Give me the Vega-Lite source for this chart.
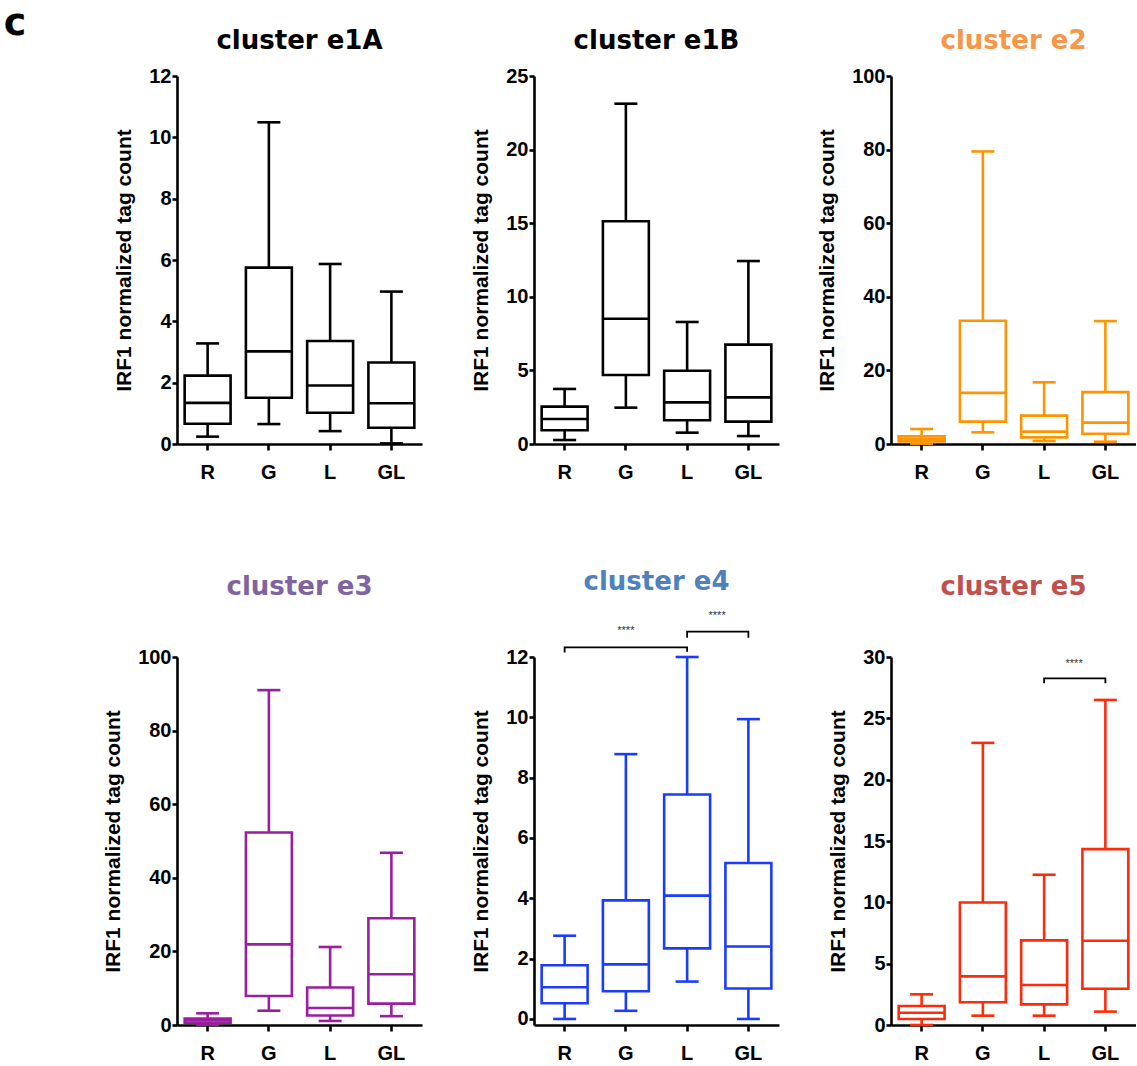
{
  "$schema": "https://vega.github.io/schema/vega-lite/v6.json",
  "padding": {"left": 3, "top": 5, "right": 0, "bottom": 0},
  "background": "white",
  "title": {"text": "c", "anchor": "start", "font": "DejaVu Sans", "fontSize": 38, "fontWeight": "bold", "color": "#000000", "dx": -99, "offset": -15},
  "columns": 3,
  "bounds": "flush",
  "spacing": {"row": 213, "column": 112},
  "config": {
    "view": {"stroke": null},
    "title": {"font": "DejaVu Sans", "fontSize": 26, "fontWeight": "bold", "anchor": "middle"},
    "tick": {"opacity": 1},
    "axis": {"grid": false, "domainColor": "#000000", "domainWidth": 2.6, "tickColor": "#000000", "tickWidth": 2.6, "labelFont": "Liberation Sans", "labelFontWeight": "bold", "labelFontSize": 20, "labelColor": "#000000", "titleFont": "Liberation Sans", "titleFontWeight": "bold", "titleFontSize": 21, "titleColor": "#000000"},
    "axisX": {"tickSize": 6, "labelPadding": 12, "labelAngle": 0},
    "axisY": {"tickSize": 5, "labelPadding": 1, "titlePadding": 14}
  },
  "datasets": {
    "e1A": [
      {"group": "R", "min": 0.24, "q1": 0.66, "median": 1.34, "q3": 2.23, "max": 3.28},
      {"group": "G", "min": 0.65, "q1": 1.51, "median": 3.02, "q3": 5.75, "max": 10.49},
      {"group": "L", "min": 0.42, "q1": 1.02, "median": 1.91, "q3": 3.36, "max": 5.87},
      {"group": "GL", "min": 0.02, "q1": 0.53, "median": 1.33, "q3": 2.66, "max": 4.97}
    ],
    "e1B": [
      {"group": "R", "min": 0.27, "q1": 0.93, "median": 1.7, "q3": 2.54, "max": 3.74},
      {"group": "G", "min": 2.47, "q1": 4.69, "median": 8.51, "q3": 15.13, "max": 23.12},
      {"group": "L", "min": 0.77, "q1": 1.61, "median": 2.83, "q3": 4.98, "max": 8.29},
      {"group": "GL", "min": 0.54, "q1": 1.52, "median": 3.17, "q3": 6.75, "max": 12.43}
    ],
    "e2": [
      {"group": "R", "min": 0.1, "q1": 0.7, "median": 1.4, "q3": 2.1, "max": 4.08},
      {"group": "G", "min": 3.17, "q1": 6.07, "median": 13.9, "q3": 33.5, "max": 79.5},
      {"group": "L", "min": 0.82, "q1": 1.81, "median": 3.35, "q3": 7.7, "max": 16.76},
      {"group": "GL", "min": 0.63, "q1": 2.8, "median": 5.8, "q3": 14.1, "max": 33.4}
    ],
    "e3": [
      {"group": "R", "min": 0.1, "q1": 0.63, "median": 1.27, "q3": 1.72, "max": 3.17},
      {"group": "G", "min": 3.89, "q1": 7.87, "median": 21.9, "q3": 52.3, "max": 91.0},
      {"group": "L", "min": 1.1, "q1": 2.6, "median": 4.6, "q3": 10.2, "max": 21.2},
      {"group": "GL", "min": 2.4, "q1": 5.8, "median": 13.8, "q3": 29.0, "max": 46.8}
    ],
    "e4": [
      {"group": "R", "min": 0, "q1": 0.52, "median": 1.05, "q3": 1.78, "max": 2.76},
      {"group": "G", "min": 0.27, "q1": 0.92, "median": 1.81, "q3": 3.93, "max": 8.78},
      {"group": "L", "min": 1.24, "q1": 2.34, "median": 4.09, "q3": 7.44, "max": 12.0},
      {"group": "GL", "min": 0, "q1": 1.01, "median": 2.4, "q3": 5.17, "max": 9.94}
    ],
    "e5": [
      {"group": "R", "min": 0, "q1": 0.49, "median": 1.0, "q3": 1.55, "max": 2.5},
      {"group": "G", "min": 0.76, "q1": 1.85, "median": 3.96, "q3": 9.99, "max": 23.0},
      {"group": "L", "min": 0.76, "q1": 1.68, "median": 3.26, "q3": 6.9, "max": 12.25},
      {"group": "GL", "min": 1.09, "q1": 2.96, "median": 6.87, "q3": 14.34, "max": 26.5}
    ],
    "e4br": [
      {"b": "a", "o": 1, "group": "R", "y": 12.15},
      {"b": "a", "o": 2, "group": "R", "y": 12.32},
      {"b": "a", "o": 3, "group": "L", "y": 12.32},
      {"b": "a", "o": 4, "group": "L", "y": 12.17},
      {"b": "b", "o": 1, "group": "L", "y": 12.64},
      {"b": "b", "o": 2, "group": "L", "y": 12.84},
      {"b": "b", "o": 3, "group": "GL", "y": 12.84},
      {"b": "b", "o": 4, "group": "GL", "y": 12.64}
    ],
    "e4stA": [{"group": "G", "y": 12.85, "label": "****"}],
    "e4stB": [{"group": "L", "y": 13.36, "label": "****"}],
    "e5br": [
      {"b": "a", "o": 1, "group": "L", "y": 27.85},
      {"b": "a", "o": 2, "group": "L", "y": 28.26},
      {"b": "a", "o": 3, "group": "GL", "y": 28.26},
      {"b": "a", "o": 4, "group": "GL", "y": 27.85}
    ],
    "e5st": [{"group": "L", "y": 29.4, "label": "****"}]
  },
  "concat": [
    {
      "width": 245, "height": 368,
      "title": {"text": "cluster e1A", "color": "#000000", "offset": 12},
      "data": {"name": "e1A"},
      "encoding": {"x": {"field": "group", "type": "nominal", "sort": ["R", "G", "L", "GL"], "scale": {"paddingInner": 0.25, "paddingOuter": 0.125}, "axis": {"title": null}}},
      "layer": [
        {"mark": {"type": "rule", "color": "#000000", "strokeWidth": 2.6}, "encoding": {"y": {"field": "min", "type": "quantitative", "scale": {"domain": [0, 12], "nice": false, "zero": false}, "axis": {"values": [0, 2, 4, 6, 8, 10, 12], "title": "IRF1 normalized tag count"}}, "y2": {"field": "max"}}},
        {"mark": {"type": "bar", "fill": "#ffffff", "stroke": "#000000", "strokeWidth": 2.6}, "encoding": {"y": {"field": "q1", "type": "quantitative"}, "y2": {"field": "q3"}}},
        {"mark": {"type": "tick", "color": "#000000", "thickness": 2.6, "size": 46}, "encoding": {"y": {"field": "median", "type": "quantitative"}}},
        {"mark": {"type": "tick", "color": "#000000", "thickness": 2.6, "size": 23}, "encoding": {"y": {"field": "min", "type": "quantitative"}}},
        {"mark": {"type": "tick", "color": "#000000", "thickness": 2.6, "size": 23}, "encoding": {"y": {"field": "max", "type": "quantitative"}}}
      ]
    },
    {
      "width": 245, "height": 368,
      "title": {"text": "cluster e1B", "color": "#000000", "offset": 12},
      "data": {"name": "e1B"},
      "encoding": {"x": {"field": "group", "type": "nominal", "sort": ["R", "G", "L", "GL"], "scale": {"paddingInner": 0.25, "paddingOuter": 0.125}, "axis": {"title": null}}},
      "layer": [
        {"mark": {"type": "rule", "color": "#000000", "strokeWidth": 2.6}, "encoding": {"y": {"field": "min", "type": "quantitative", "scale": {"domain": [0, 25], "nice": false, "zero": false}, "axis": {"values": [0, 5, 10, 15, 20, 25], "title": "IRF1 normalized tag count"}}, "y2": {"field": "max"}}},
        {"mark": {"type": "bar", "fill": "#ffffff", "stroke": "#000000", "strokeWidth": 2.6}, "encoding": {"y": {"field": "q1", "type": "quantitative"}, "y2": {"field": "q3"}}},
        {"mark": {"type": "tick", "color": "#000000", "thickness": 2.6, "size": 46}, "encoding": {"y": {"field": "median", "type": "quantitative"}}},
        {"mark": {"type": "tick", "color": "#000000", "thickness": 2.6, "size": 23}, "encoding": {"y": {"field": "min", "type": "quantitative"}}},
        {"mark": {"type": "tick", "color": "#000000", "thickness": 2.6, "size": 23}, "encoding": {"y": {"field": "max", "type": "quantitative"}}}
      ]
    },
    {
      "width": 245, "height": 368,
      "title": {"text": "cluster e2", "color": "#F79646", "offset": 12},
      "data": {"name": "e2"},
      "encoding": {"x": {"field": "group", "type": "nominal", "sort": ["R", "G", "L", "GL"], "scale": {"paddingInner": 0.25, "paddingOuter": 0.125}, "axis": {"title": null}}},
      "layer": [
        {"mark": {"type": "rule", "color": "#FF9400", "strokeWidth": 2.6}, "encoding": {"y": {"field": "min", "type": "quantitative", "scale": {"domain": [0, 100], "nice": false, "zero": false}, "axis": {"values": [0, 20, 40, 60, 80, 100], "title": "IRF1 normalized tag count"}}, "y2": {"field": "max"}}},
        {"mark": {"type": "bar", "fill": "#ffffff", "stroke": "#FF9400", "strokeWidth": 2.6}, "encoding": {"y": {"field": "q1", "type": "quantitative"}, "y2": {"field": "q3"}}},
        {"mark": {"type": "tick", "color": "#FF9400", "thickness": 2.6, "size": 46}, "encoding": {"y": {"field": "median", "type": "quantitative"}}},
        {"mark": {"type": "tick", "color": "#FF9400", "thickness": 2.6, "size": 23}, "encoding": {"y": {"field": "min", "type": "quantitative"}}},
        {"mark": {"type": "tick", "color": "#FF9400", "thickness": 2.6, "size": 23}, "encoding": {"y": {"field": "max", "type": "quantitative"}}}
      ]
    },
    {
      "width": 245, "height": 368,
      "title": {"text": "cluster e3", "color": "#8064A2", "offset": 47},
      "data": {"name": "e3"},
      "encoding": {"x": {"field": "group", "type": "nominal", "sort": ["R", "G", "L", "GL"], "scale": {"paddingInner": 0.25, "paddingOuter": 0.125}, "axis": {"title": null}}},
      "layer": [
        {"mark": {"type": "rule", "color": "#9A1E9F", "strokeWidth": 2.6}, "encoding": {"y": {"field": "min", "type": "quantitative", "scale": {"domain": [0, 100], "nice": false, "zero": false}, "axis": {"values": [0, 20, 40, 60, 80, 100], "title": "IRF1 normalized tag count"}}, "y2": {"field": "max"}}},
        {"mark": {"type": "bar", "fill": "#ffffff", "stroke": "#9A1E9F", "strokeWidth": 2.6}, "encoding": {"y": {"field": "q1", "type": "quantitative"}, "y2": {"field": "q3"}}},
        {"mark": {"type": "tick", "color": "#9A1E9F", "thickness": 2.6, "size": 46}, "encoding": {"y": {"field": "median", "type": "quantitative"}}},
        {"mark": {"type": "tick", "color": "#9A1E9F", "thickness": 2.6, "size": 23}, "encoding": {"y": {"field": "min", "type": "quantitative"}}},
        {"mark": {"type": "tick", "color": "#9A1E9F", "thickness": 2.6, "size": 23}, "encoding": {"y": {"field": "max", "type": "quantitative"}}}
      ]
    },
    {
      "width": 245, "height": 368,
      "title": {"text": "cluster e4", "color": "#4F81BD", "offset": 15},
      "encoding": {"x": {"field": "group", "type": "nominal", "sort": ["R", "G", "L", "GL"], "scale": {"paddingInner": 0.25, "paddingOuter": 0.125}, "axis": {"title": null}}},
      "layer": [
        {"data": {"name": "e4"}, "mark": {"type": "rule", "color": "#1A3CFF", "strokeWidth": 2.6}, "encoding": {"y": {"field": "min", "type": "quantitative", "scale": {"domain": [-0.2, 12], "nice": false, "zero": false}, "axis": {"values": [0, 2, 4, 6, 8, 10, 12], "title": "IRF1 normalized tag count"}}, "y2": {"field": "max"}}},
        {"data": {"name": "e4"}, "mark": {"type": "bar", "fill": "#ffffff", "stroke": "#1A3CFF", "strokeWidth": 2.6}, "encoding": {"y": {"field": "q1", "type": "quantitative"}, "y2": {"field": "q3"}}},
        {"data": {"name": "e4"}, "mark": {"type": "tick", "color": "#1A3CFF", "thickness": 2.6, "size": 46}, "encoding": {"y": {"field": "median", "type": "quantitative"}}},
        {"data": {"name": "e4"}, "mark": {"type": "tick", "color": "#1A3CFF", "thickness": 2.6, "size": 23}, "encoding": {"y": {"field": "min", "type": "quantitative"}}},
        {"data": {"name": "e4"}, "mark": {"type": "tick", "color": "#1A3CFF", "thickness": 2.6, "size": 23}, "encoding": {"y": {"field": "max", "type": "quantitative"}}},
        {"data": {"name": "e4br"}, "mark": {"type": "line", "color": "#000000", "strokeWidth": 1.8, "clip": false}, "encoding": {"y": {"field": "y", "type": "quantitative"}, "detail": {"field": "b"}, "order": {"field": "o"}}},
        {"data": {"name": "e4stA"}, "mark": {"type": "text", "font": "Liberation Sans", "fontSize": 11, "color": "#333333", "baseline": "middle", "align": "center"}, "encoding": {"y": {"field": "y", "type": "quantitative"}, "text": {"field": "label"}}},
        {"data": {"name": "e4stB"}, "mark": {"type": "text", "font": "Liberation Sans", "fontSize": 11, "color": "#333333", "baseline": "middle", "align": "center", "dx": 30}, "encoding": {"y": {"field": "y", "type": "quantitative"}, "text": {"field": "label"}}}
      ]
    },
    {
      "width": 245, "height": 368,
      "title": {"text": "cluster e5", "color": "#C0504D", "offset": 47},
      "encoding": {"x": {"field": "group", "type": "nominal", "sort": ["R", "G", "L", "GL"], "scale": {"paddingInner": 0.25, "paddingOuter": 0.125}, "axis": {"title": null}}},
      "layer": [
        {"data": {"name": "e5"}, "mark": {"type": "rule", "color": "#FF2A0A", "strokeWidth": 2.6}, "encoding": {"y": {"field": "min", "type": "quantitative", "scale": {"domain": [0, 30], "nice": false, "zero": false}, "axis": {"values": [0, 5, 10, 15, 20, 25, 30], "title": "IRF1 normalized tag count"}}, "y2": {"field": "max"}}},
        {"data": {"name": "e5"}, "mark": {"type": "bar", "fill": "#ffffff", "stroke": "#FF2A0A", "strokeWidth": 2.6}, "encoding": {"y": {"field": "q1", "type": "quantitative"}, "y2": {"field": "q3"}}},
        {"data": {"name": "e5"}, "mark": {"type": "tick", "color": "#FF2A0A", "thickness": 2.6, "size": 46}, "encoding": {"y": {"field": "median", "type": "quantitative"}}},
        {"data": {"name": "e5"}, "mark": {"type": "tick", "color": "#FF2A0A", "thickness": 2.6, "size": 23}, "encoding": {"y": {"field": "min", "type": "quantitative"}}},
        {"data": {"name": "e5"}, "mark": {"type": "tick", "color": "#FF2A0A", "thickness": 2.6, "size": 23}, "encoding": {"y": {"field": "max", "type": "quantitative"}}},
        {"data": {"name": "e5br"}, "mark": {"type": "line", "color": "#000000", "strokeWidth": 1.8, "clip": false}, "encoding": {"y": {"field": "y", "type": "quantitative"}, "detail": {"field": "b"}, "order": {"field": "o"}}},
        {"data": {"name": "e5st"}, "mark": {"type": "text", "font": "Liberation Sans", "fontSize": 11, "color": "#333333", "baseline": "middle", "align": "center", "dx": 30}, "encoding": {"y": {"field": "y", "type": "quantitative"}, "text": {"field": "label"}}}
      ]
    }
  ]
}
